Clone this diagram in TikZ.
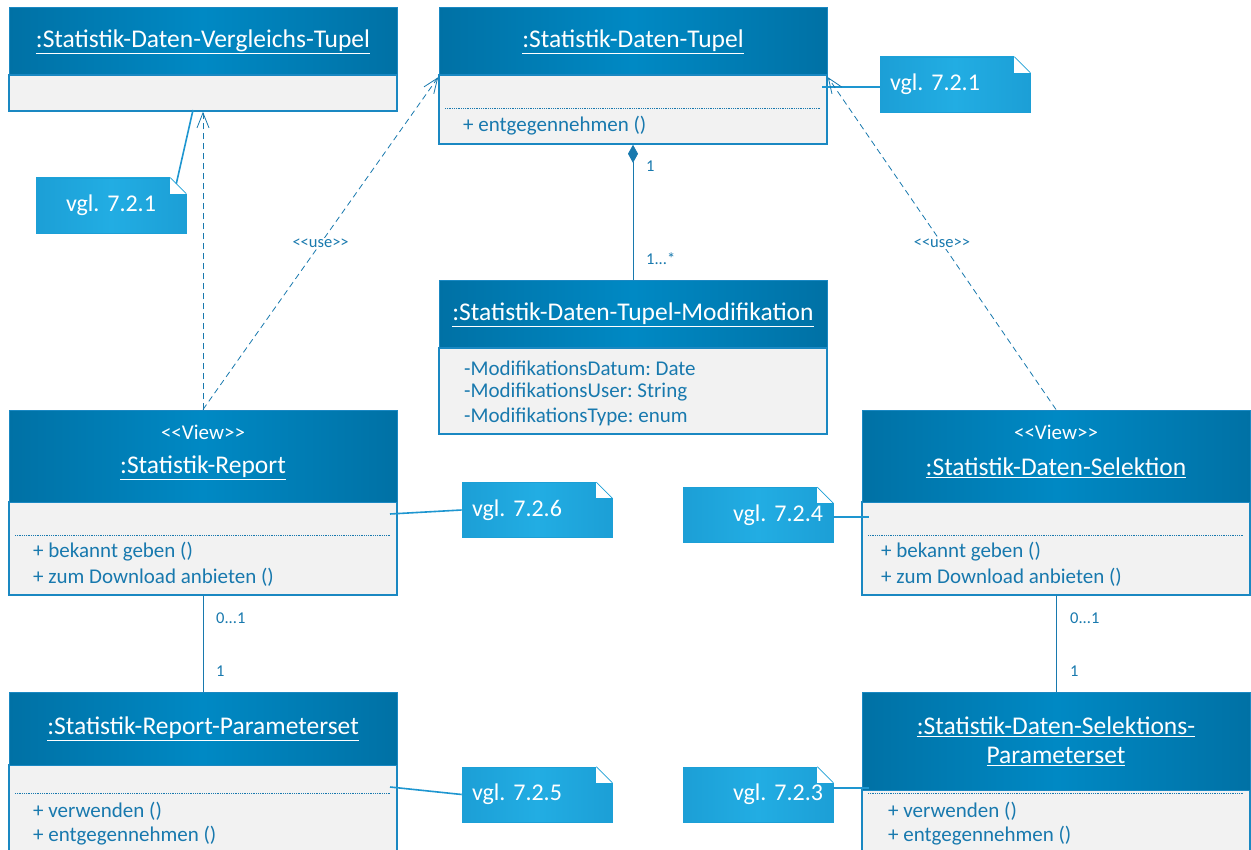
\documentclass[tikz,border=0pt]{standalone}
\usepackage{fontspec}
\setmainfont{Carlito}
\usetikzlibrary{arrows.meta,calc}

\definecolor{hdrdark}{HTML}{0071A5}
\definecolor{hdrmid}{HTML}{0089C4}
\definecolor{bodyfill}{HTML}{F2F2F2}
\definecolor{frame}{HTML}{1A88C2}
\definecolor{txtblue}{HTML}{1879AE}
\definecolor{notefill}{HTML}{1C9FD6}
\definecolor{notemid}{HTML}{22ADE3}
\definecolor{linkblue}{HTML}{1E96D0}

\newcommand{\stlt}{<{}<}
\newcommand{\stgt}{>{}>}
\frenchspacing

\begin{document}
\begin{tikzpicture}[x=1pt,y=-1pt,
  hdr/.style={rectangle, draw=frame, line width=1pt, left color=hdrdark,
    right color=hdrdark, middle color=hdrmid, text=white, inner sep=0pt,
    minimum width=388pt, align=center, font=\fontsize{25.5}{29}\selectfont},
  body/.style={rectangle, draw=frame, line width=1.6pt, fill=bodyfill,
    inner sep=0pt, minimum width=388pt},
  ttl/.style={text=white, inner sep=0pt, font=\fontsize{25.5}{29}\selectfont},
  stereo/.style={text=white, inner sep=0pt, font=\fontsize{21}{25}\selectfont},
  op/.style={text=txtblue, inner sep=0pt, anchor=west, font=\fontsize{21}{25}\selectfont},
  sep/.style={draw=txtblue, line width=0.8pt, dash pattern=on 1pt off 0.8pt},
  note/.style={rectangle, draw=notefill, line width=0.6pt, left color=notefill,
    right color=notefill, middle color=notemid, text=white, inner xsep=10pt,
    inner ysep=0pt, minimum height=55pt, text width=130pt,
    font=\fontsize{24}{28}\selectfont},
  fold/.style={draw=notefill, line width=0.8pt},
  notelink/.style={draw=linkblue, line width=1.6pt},
  dep/.style={draw=txtblue, line width=0.8pt, dash pattern=on 6pt off 4pt,
    -{Straight Barb[length=15pt,width=12pt,line width=0.8pt]}},
  assoc/.style={draw=txtblue, line width=0.8pt},
  mult/.style={text=txtblue, inner sep=0pt, anchor=west, font=\fontsize{16.5}{19}\selectfont},
  uselbl/.style={text=txtblue, fill=white, inner sep=1pt, font=\fontsize{16.5}{19}\selectfont}
]
\useasboundingbox (0,0) rectangle (1251,850);
\fill[white] (0,0) rectangle (1251,850);
\clip (0,0) rectangle (1251,850);

% ---- :Statistik-Daten-Vergleichs-Tupel
\node[body, minimum height=36pt] (vglb) at (203,93) {};
\node[hdr, minimum height=67pt] (vglh) at (203,41.5) {\underline{:Statistik-Daten-Vergleichs-Tupel}};

% ---- :Statistik-Daten-Tupel
\node[body, minimum height=69pt] (tupb) at (633,109.5) {};
\node[hdr, minimum height=67pt] (tuph) at (633,41.5) {\underline{:Statistik-Daten-Tupel}};
\draw[sep] (445,108) -- (821,108);
\node[op] (tupo1) at (463,126) {+ entgegennehmen ()};

% ---- :Statistik-Daten-Tupel-Modifikation
\node[body, minimum height=86pt] (modb) at (633,391) {};
\node[hdr, minimum height=67pt] (modh) at (633,314.5) {\underline{:Statistik-Daten-Tupel-Modifikation}};
\node[op] (moda1) at (464,368) {-ModifikationsDatum: Date};
\node[op] (moda2) at (464,392) {-ModifikationsUser: String};
\node[op] (moda3) at (464,417) {-ModifikationsType: enum};

% ---- :Statistik-Report
\node[body, minimum height=93pt] (repb) at (203,548.5) {};
\node[hdr, minimum height=92pt] (reph) at (203,456) {};
\node[stereo] (repst) at (203,432) {\stlt View\stgt};
\node[ttl] (reptt) at (203,468) {\underline{:Statistik-Report}};
\draw[sep] (15,535) -- (391,535);
\node[op] (repo1) at (33,552) {+ bekannt geben ()};
\node[op] (repo2) at (33,577) {+ zum Download anbieten ()};

% ---- :Statistik-Daten-Selektion
\node[body, minimum height=93pt] (selb) at (1056,548.5) {};
\node[hdr, minimum height=92pt] (selh) at (1056,456) {};
\node[stereo] (selst) at (1056,432) {\stlt View\stgt};
\node[ttl] (seltt) at (1056,468) {\underline{:Statistik-Daten-Selektion}};
\draw[sep] (868,535) -- (1244,535);
\node[op] (selo1) at (881,552) {+ bekannt geben ()};
\node[op] (selo2) at (881,577) {+ zum Download anbieten ()};

% ---- :Statistik-Report-Parameterset
\node[body, minimum height=90pt] (rppb) at (203,810) {};
\node[hdr, minimum height=73pt] (rpph) at (203,728.5) {\underline{:Statistik-Report-Parameterset}};
\draw[sep] (15,793) -- (391,793);
\node[op] (rppo1) at (33,811) {+ verwenden ()};
\node[op] (rppo2) at (33,836) {+ entgegennehmen ()};

% ---- :Statistik-Daten-Selektions-Parameterset
\node[body, minimum height=65pt] (sppb) at (1056,822.5) {};
\node[hdr, minimum height=98pt] (spph) at (1056,741) {\underline{:Statistik-Daten-Selektions-}\\\underline{Parameterset}};
\draw[sep] (868,793) -- (1244,793);
\node[op] (sppo1) at (888,811) {+ verwenden ()};
\node[op] (sppo2) at (888,836) {+ entgegennehmen ()};

% ---- notes
\node[note, align=left]   (n1) at (955,84.5)  {vgl. 7.2.1};
\node[note, align=center] (n2) at (111,205.5) {vgl. 7.2.1};
\node[note, align=left]   (n3) at (537,510)   {vgl. 7.2.6};
\node[note, align=right]  (n4) at (758,515)   {vgl. 7.2.4};
\node[note, align=left]   (n5) at (537,794.5) {vgl. 7.2.5};
\node[note, align=right]  (n6) at (758,794.5) {vgl. 7.2.3};
\foreach \n in {n1,n2,n3,n4,n5,n6}{
  \fill[white] ([xshift=-16pt,yshift=0.6pt]\n.north east) rectangle ([xshift=0.6pt,yshift=-16pt]\n.north east);
  \draw[fold] ([xshift=-16pt]\n.north east) -- ([yshift=-16pt]\n.north east);
}

% ---- note links
\coordinate (l1) at (822,87);
\coordinate (l2) at (193,110);
\coordinate (l3) at (390,514);
\coordinate (l4) at (869,517);
\coordinate (l5) at (390,787);
\coordinate (l6) at (869,788);
\draw[notelink] (l1) -- (l1 -| n1.west);
\draw[notelink] (l2) -- ([xshift=-10pt,yshift=-6pt]n2.north east);
\draw[notelink] (l3) -- (n3.west);
\draw[notelink] (n4.east |- l4) -- (l4);
\draw[notelink] (l5) -- (n5.west);
\draw[notelink] (n6.east |- l6) -- (l6);

% ---- dependencies
\draw[dep] (reph.north) -- (vglb.south);
\draw[dep] (reph.north) -- node[uselbl, pos=0.5] (use1) {\stlt use\stgt} ([yshift=-3pt]tupb.north west);
\draw[dep] (selh.north) -- node[uselbl, pos=0.5] (use2) {\stlt use\stgt} ([yshift=-3pt]tupb.north east);

% ---- composition and associations
\draw[assoc, {Diamond[length=18pt,width=10pt]}-] (tupb.south) -- (modh.north);
\node[mult] (m1) at (646,166) {1};
\node[mult] (m2) at (646,259) {1...*};

\draw[assoc] (repb.south) -- (rpph.north);
\node[mult] (m3) at (216,618) {0...1};
\node[mult] (m4) at (216,671) {1};

\draw[assoc] (selb.south) -- (spph.north);
\node[mult] (m5) at (1070,618) {0...1};
\node[mult] (m6) at (1070,671) {1};
\end{tikzpicture}
\end{document}
